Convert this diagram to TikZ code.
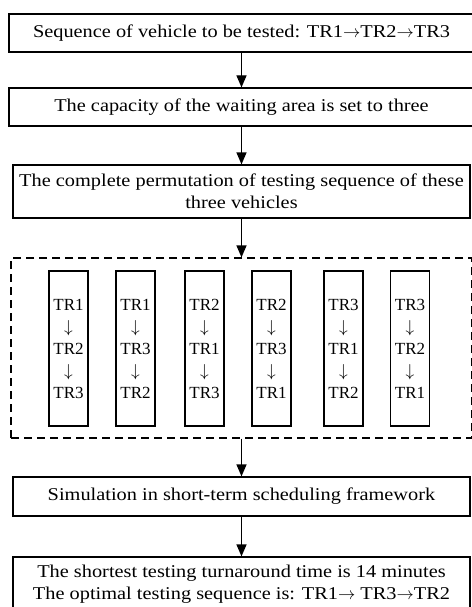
\documentclass[tikz,border=0pt]{standalone}
\usepackage{fontspec}
\setmainfont{Liberation Serif}
\newfontfamily\boxfont[FakeStretch=1.13]{Liberation Serif}
\usetikzlibrary{arrows.meta}

\begin{document}
\begin{tikzpicture}[x=1pt, y=-1pt,
	stepbox/.style={draw, line width=1.2pt, inner sep=2, align=center, font=\boxfont\fontsize{18}{22}\selectfont},
	seqbox/.style={draw, line width=1.2pt, minimum width=39, minimum height=155, inner sep=0, align=center, font=\fontsize{17}{22}\selectfont},
	groupbox/.style={draw, line width=1.2pt, dash pattern=on 8pt off 5pt, minimum width=461, minimum height=180},
	arr/.style={-{Triangle[length=12pt,width=10pt]}, line width=1.2pt}
]
\useasboundingbox (0,0) rectangle (471,607);

\node[stepbox, minimum width=465, minimum height=38] (seq) at (241.5,33) {Sequence of vehicle to be tested: TR1$\rightarrow$TR2$\rightarrow$TR3};
\node[stepbox, minimum width=465, minimum height=38] (cap) at (241.5,107) {The capacity of the waiting area is set to three};
\node[stepbox, minimum width=457, minimum height=53] (perm) at (241.5,191.5) {The complete permutation of testing sequence of these\\three vehicles};

\node[groupbox] (group) at (241.5,348) {};
\foreach \x/\a/\b/\c [count=\i] in {68.5/1/2/3, 135.5/1/3/2, 204.5/2/1/3, 271.5/2/3/1, 343.5/3/1/2, 410/3/2/1}
	\node[seqbox] (p\i) at (\x,348.5) {TR\a\\$\downarrow$\\TR\b\\$\downarrow$\\TR\c};

\node[stepbox, minimum width=457, minimum height=39] (sim) at (241.5,496.5) {Simulation in short-term scheduling framework};
\node[stepbox, minimum width=457, minimum height=54] (res) at (241.5,584) {The shortest testing turnaround time is 14 minutes\\The optimal testing sequence is: TR1$\rightarrow$ TR3$\rightarrow$TR2};

\draw[arr]  (seq) -- (cap);
\draw[arr]  (cap) -- (perm);
\draw[arr]  (perm) -- (group);
\draw[arr]  (group) -- (sim);
\draw[arr]  (sim) -- (res);
\end{tikzpicture}
\end{document}
